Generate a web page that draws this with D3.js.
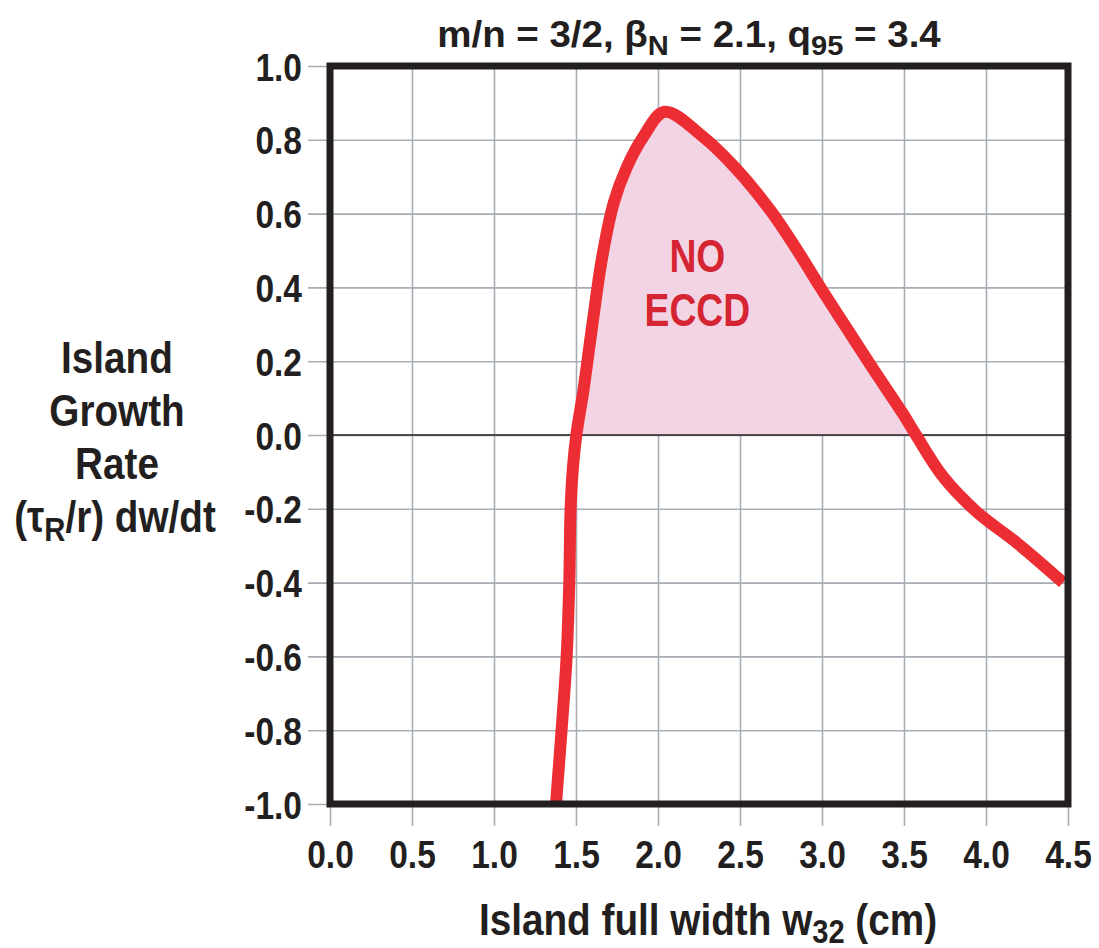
<!DOCTYPE html>
<meta charset="utf-8">
<title>Island growth rate</title>
<script src="https://d3js.org/d3.v7.min.js"></script>
<style>
  body { margin: 0; background: #fff; }
  text { font-family: "Liberation Sans", Arial, sans-serif; font-weight: bold; fill: #231f20; }
</style>
<div id="chart"></div>
<script>
// island full width w32 (cm) and growth rate (tau_R/r) dw/dt
var width32 = [1.378, 1.412, 1.443, 1.459, 1.467, 1.481, 1.502, 1.545, 1.60, 1.66, 1.73, 1.81, 1.91, 2.04,
               2.27, 2.48, 2.683, 2.85, 2.99, 3.15, 3.31, 3.49, 3.573, 3.74, 3.945, 4.19, 4.47];
var growth = [-1.0, -0.8, -0.6, -0.4, -0.2, -0.09, 0.0, 0.12, 0.30, 0.483, 0.629, 0.726, 0.808, 0.876,
              0.81, 0.72, 0.61, 0.50, 0.40, 0.29, 0.18, 0.06, 0.0, -0.114, -0.209, -0.293, -0.40];
var xTicks = [0, 0.5, 1, 1.5, 2, 2.5, 3, 3.5, 4, 4.5];
var yTicks = [-1, -0.8, -0.6, -0.4, -0.2, 0, 0.2, 0.4, 0.6, 0.8, 1];

var margin = {top: 66, left: 330},
    width = 738, height = 738;

var svg = d3.select("#chart").append("svg")
    .attr("width", 1099).attr("height", 948);
var g = svg.append("g")
    .attr("transform", "translate(" + margin.left + "," + margin.top + ")");

var x = d3.scaleLinear().domain([0, 4.5]).range([0, width]);
var y = d3.scaleLinear().domain([-1, 1]).range([height, 0]);

// narrow the glyphs (no condensed font around)
function squeeze(sel, k) {
  sel.each(function() {
    var t = d3.select(this);
    var x0 = +t.attr("x") || 0;
    t.attr("x", x0 / k).attr("transform", "scale(" + k + ",1)");
  });
}
var fmt = function(d) { return d3.format(".1f")(d).replace("\u2212", "-"); };

var ext = 22; // ticks poke out of the frame

// grid + x axis
var xa = g.append("g")
    .attr("transform", "translate(0," + (height + ext) + ")")
    .call(d3.axisBottom(x).tickValues(xTicks).tickSizeInner(-(height + ext)).tickSizeOuter(0).tickFormat(fmt));
xa.select(".domain").remove();
xa.selectAll("line").attr("stroke", "#a7adb5").attr("stroke-width", 1.6);
xa.selectAll("text").attr("y", 42).attr("dy", 0).style("font-size", "39px").attr("fill", "#231f20");
squeeze(xa.selectAll("text"), 0.86);

// grid + y axis
var ya = g.append("g")
    .attr("transform", "translate(" + (-ext) + ",0)")
    .call(d3.axisLeft(y).tickValues(yTicks).tickSizeInner(-(width + ext)).tickSizeOuter(0).tickFormat(fmt));
ya.select(".domain").remove();
ya.selectAll("line").attr("stroke", "#a7adb5").attr("stroke-width", 1.6);
ya.selectAll("text").attr("x", -6).attr("dy", "0.36em").style("font-size", "39px").attr("fill", "#231f20");
squeeze(ya.selectAll("text"), 0.86);

// shaded area above zero
var pts = width32.map(function(d, i) { return [d, growth[i]]; });
var pos = pts.filter(function(p) { return p[1] >= 0; });
g.append("path")
    .datum(pos)
    .attr("fill", "#f2d4e4")
    .attr("d", d3.area()
      .x(function(d) { return x(d[0]); })
      .y0(y(0))
      .y1(function(d) { return y(d[1]); })
      .curve(d3.curveCatmullRom.alpha(0.5)));

// zero line
g.append("line")
    .attr("x1", 0).attr("x2", width)
    .attr("y1", y(0)).attr("y2", y(0))
    .attr("stroke", "#231f20").attr("stroke-width", 1.6);

// label inside the hump
var lab = g.append("g");
lab.append("text").attr("x", x(2.24)).attr("y", 206).text("NO");
lab.append("text").attr("x", x(2.24)).attr("y", 260).text("ECCD");
lab.selectAll("text").attr("text-anchor", "middle").style("font-size", "46px").style("fill", "#d52532");
squeeze(lab.selectAll("text"), 0.81);

// the curve
g.append("path")
    .datum(pts)
    .attr("fill", "none")
    .attr("stroke", "#ec2d33")
    .attr("stroke-width", 12)
    .attr("stroke-linejoin", "round")
    .attr("d", d3.line()
      .x(function(d) { return x(d[0]); })
      .y(function(d) { return y(d[1]); })
      .curve(d3.curveCatmullRom.alpha(0.5)));

// frame
g.append("rect")
    .attr("x", 0).attr("y", 0).attr("width", width).attr("height", height)
    .attr("fill", "none").attr("stroke", "#231f20").attr("stroke-width", 7);

// title
var t = svg.append("text").attr("x", 689).attr("y", 47)
    .attr("text-anchor", "middle").style("font-size", "37px");
t.append("tspan").text("m/n = 3/2, \u03b2");
t.append("tspan").attr("dy", 8).style("font-size", "28px").text("N");
t.append("tspan").attr("dy", -8).text(" = 2.1, q");
t.append("tspan").attr("dy", 8).style("font-size", "28px").text("95");
t.append("tspan").attr("dy", -8).text(" = 3.4");
squeeze(t, 1.04);

// x axis title
var xt = svg.append("text").attr("x", 708).attr("y", 935)
    .attr("text-anchor", "middle").style("font-size", "44px");
xt.append("tspan").text("Island full width w");
xt.append("tspan").attr("dy", 8).style("font-size", "33px").text("32");
xt.append("tspan").attr("dy", -8).text(" (cm)");
squeeze(xt, 0.88);

// y axis title
var yg = svg.append("g");
["Island", "Growth", "Rate"].forEach(function(s, i) {
  yg.append("text").attr("x", 117).attr("y", 373 + i * 53)
    .attr("text-anchor", "middle").style("font-size", "45px").text(s);
});
var yt = yg.append("text").attr("x", 115).attr("y", 532)
    .attr("text-anchor", "middle").style("font-size", "45px");
yt.append("tspan").text("(\u03c4");
yt.append("tspan").attr("dy", 9).style("font-size", "34px").text("R");
yt.append("tspan").attr("dy", -9).text("/r) dw/dt");
squeeze(yg.selectAll("text"), 0.86);
</script>
